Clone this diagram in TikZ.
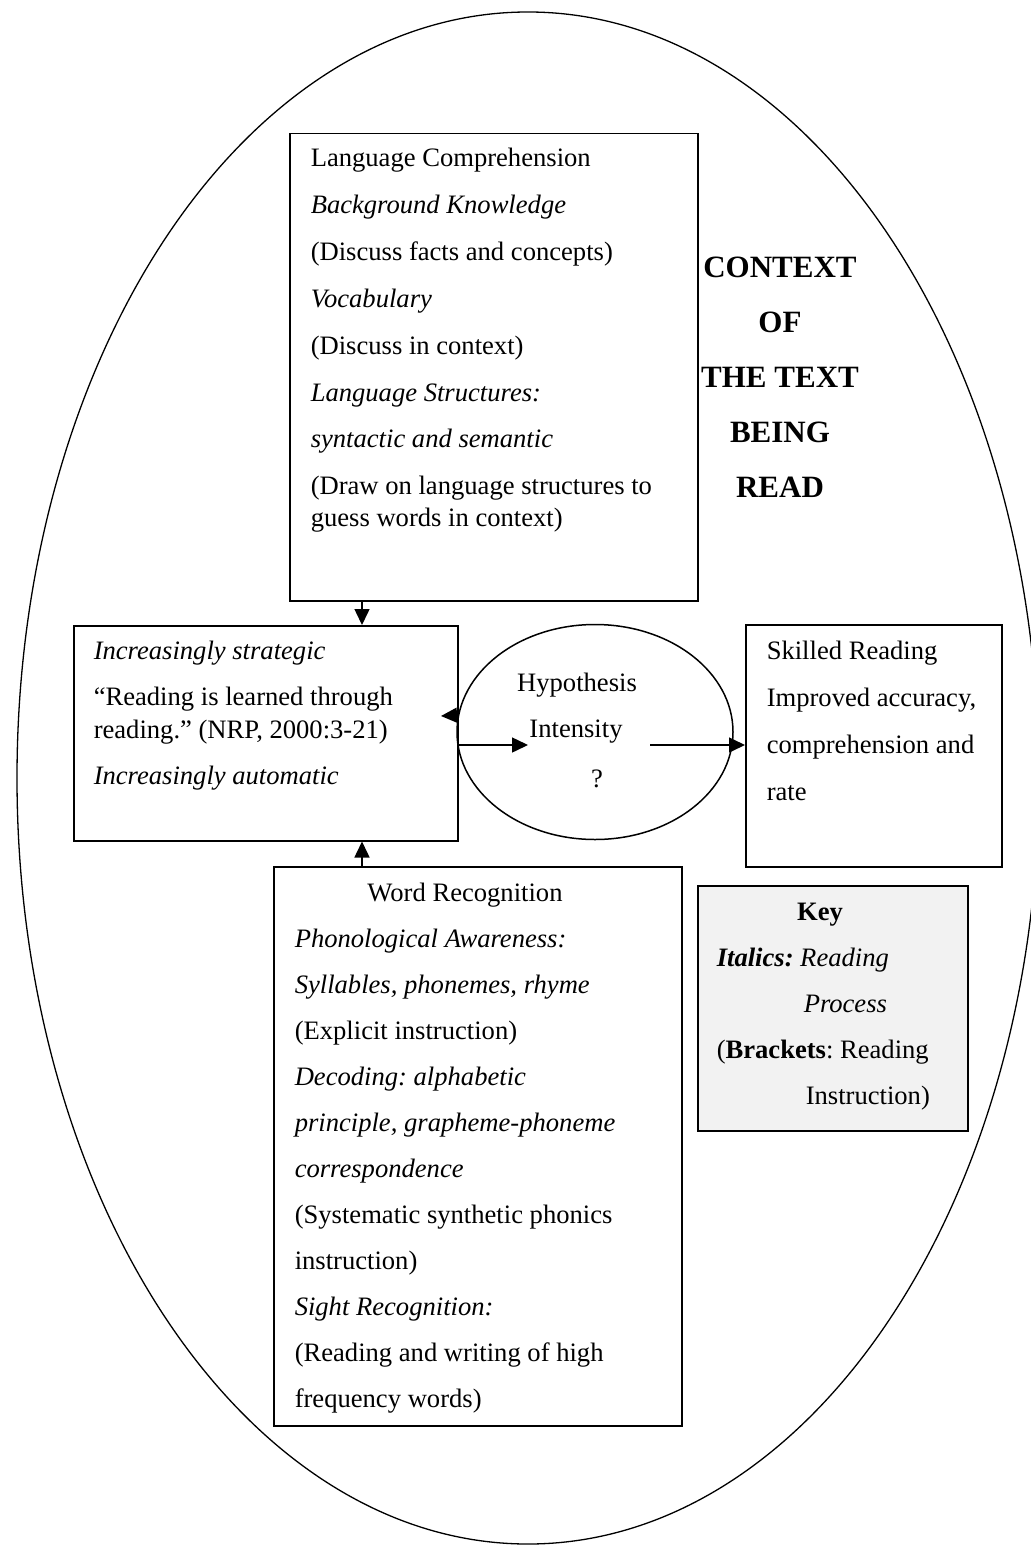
\documentclass[tikz,border=0pt]{standalone}
\usepackage{fontspec}
\setmainfont{Liberation Serif}
\usetikzlibrary{arrows.meta, shapes.geometric}
\definecolor{keygray}{RGB}{242,242,242}
\frenchspacing

\begin{document}
\begin{tikzpicture}[x=1pt, y=-1pt, line width=1.5pt,
    box/.style={draw, rectangle, inner sep=0pt, anchor=north west},
    txt/.style={inner sep=0pt, anchor=base west, font=\fontsize{26.6}{30}\selectfont},
    ctr/.style={txt, anchor=base},
    bigtxt/.style={inner sep=0pt, anchor=base, font=\fontsize{31}{34}\selectfont\bfseries},
    conn/.style={-{Triangle[length=16pt, width=15pt]}}]
  \useasboundingbox (0,0) rectangle (1030,1546);
  % context of the text being read
  \draw[line width=1.3pt] (528,778) ellipse [x radius=511, y radius=766];
  % boxes
  \node[box, minimum width=408pt, minimum height=467pt] (lc) at (289,133) {};
  \node[box, minimum width=384pt, minimum height=215pt] (inc) at (73,625) {};
  \node[draw, ellipse, inner sep=0pt, minimum width=276pt,
        minimum height=215pt] (hyp) at (595,732) {};
  \node[box, minimum width=256pt, minimum height=242pt] (skill) at (745,624) {};
  \node[box, minimum width=408pt, minimum height=559pt] (wr) at (273,866) {};
  \node[box, fill=keygray, minimum width=270pt, minimum height=245pt] (key) at (697,885) {};
  % Language Comprehension
  \foreach \y/\lbl [count=\i] in {167/Language Comprehension,
      213.8/\textit{Background Knowledge}, 260.6/(Discuss facts and concepts),
      307.4/\textit{Vocabulary}, 354.2/(Discuss in context),
      401/\textit{Language Structures:}, 447.8/\textit{syntactic and semantic},
      494.6/(Draw on language structures to, 526/guess words in context)}
    \node[txt] (lc\i) at (310,\y) {\lbl};
  % Increasingly strategic / automatic
  \node[txt] (inc1) at (93,659) {\textit{Increasingly strategic}};
  \node[txt] (inc2) at (93,705) {“Reading is learned through};
  \node[txt] (inc3) at (93,738) {reading.” (NRP, 2000:3-21)};
  \node[txt] (inc4) at (93,784) {\textit{Increasingly automatic}};
  % Hypothesis
  \node[ctr] (hyp1) at (577,691) {Hypothesis};
  \node[ctr] (hyp2) at (576,737) {Intensity};
  \node[ctr] (hyp3) at (597,787) {?};
  % Skilled Reading
  \foreach \y/\lbl [count=\i] in {659/Skilled Reading, 706/{Improved accuracy,},
      753/comprehension and, 800/rate}
    \node[txt] (skill\i) at (766,\y) {\lbl};
  % Word Recognition
  \node[ctr] (wr0) at (465,901) {Word Recognition};
  \foreach \y/\lbl [count=\i] in {947/\textit{Phonological Awareness:},
      993/{\textit{Syllables, phonemes, rhyme}}, 1039/(Explicit instruction),
      1085/\textit{Decoding: alphabetic}, 1131/{\textit{principle, grapheme-phoneme}},
      1177/\textit{correspondence}, 1223/(Systematic synthetic phonics,
      1269/instruction), 1315/\textit{Sight Recognition:},
      1361/(Reading and writing of high, 1407/frequency words)}
    \node[txt] (wr\i) at (294,\y) {\lbl};
  % Key
  \node[ctr] (key0) at (820,920) {\textbf{Key}};
  \node[txt] (key1) at (716,966) {\textbf{\textit{Italics:}} \textit{Reading}};
  \node[txt] (key2) at (803,1012) {\textit{Process}};
  \node[txt] (key3) at (716,1058) {(\textbf{Brackets}: Reading};
  \node[txt] (key4) at (805,1104) {Instruction)};
  % context label
  \foreach \y/\lbl [count=\i] in {277/CONTEXT, 332/OF, 387/THE TEXT, 442/BEING, 497/READ}
    \node[bigtxt] (ctx\i) at (780,\y) {\lbl};
  % connectors
  \coordinate (stem) at (362,0);
  \coordinate (hypin) at (528,745);
  \coordinate (hypout) at (650,745);
  \coordinate (incin) at (441,716);
  \draw[conn] (stem |- lc.south) -- (stem |- inc.north);
  \draw[conn] (stem |- wr.north) -- (stem |- inc.south);
  \draw[conn] (inc.east |- hypin) -- (hypin);
  \draw[conn] (hypout) -- (skill.west |- hypout);
  \draw[conn] (hyp.173.3) -- (incin);
\end{tikzpicture}
\end{document}
